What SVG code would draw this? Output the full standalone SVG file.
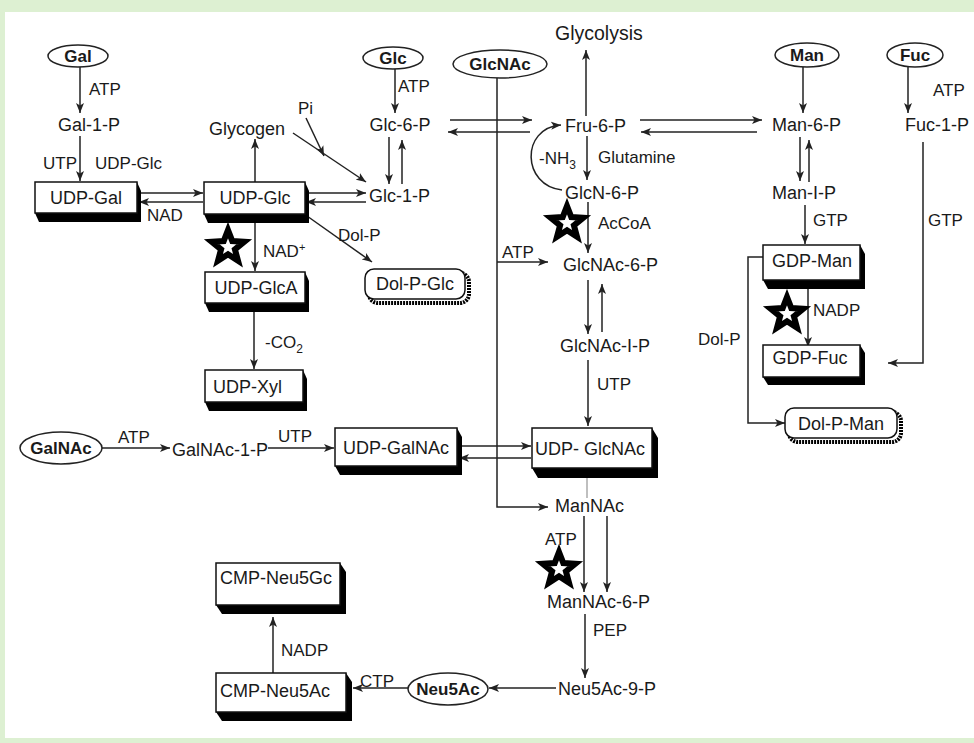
<svg xmlns="http://www.w3.org/2000/svg" width="974" height="743" viewBox="0 0 974 743">
<defs>
<style>
text{font-family:"Liberation Sans",Arial,sans-serif;font-size:17px;fill:#1a1a1a}
.n{font-size:18px}
.b{font-weight:bold;font-size:17px}
.c{stroke:#222;stroke-width:1.5;fill:none;marker-end:url(#ah)}
.p{stroke:#222;stroke-width:1.5;fill:none}
.box{fill:#fff;stroke:#111;stroke-width:1.5}
.sh{fill:#000}
.ell{fill:#fff;stroke:#222;stroke-width:1.5}
.rsh{fill:none;stroke:#000;stroke-width:4;stroke-dasharray:2 1}
.st{fill:#fff;stroke:#000;stroke-width:6;stroke-linejoin:miter;stroke-miterlimit:10}
</style>
<marker id="ah" markerUnits="userSpaceOnUse" markerWidth="11" markerHeight="9" refX="10" refY="4.5" orient="auto" viewBox="0 0 11 9">
<path d="M0,0.5 L10,4.5 L0,8.5 L2.5,4.5 Z" fill="#222"/>
</marker>
<polygon id="star" class="st" points="0,-17 4.3,-5.9 16.2,-5.2 6.9,2.3 10,13.7 0,7.3 -10,13.7 -6.9,2.3 -16.2,-5.2 -4.3,-5.9"/>
</defs>
<rect x="0" y="0" width="974" height="743" fill="#ddf0d2"/>
<rect x="5" y="12" width="969" height="726" fill="#fff"/>

<g id="connectors">
<path class="c" d="M80,67 V113"/>
<path class="c" d="M80,136 V181"/>
<path class="c" d="M138,193 H203"/>
<path class="c" d="M203,202 H139"/>
<path class="c" d="M255,182 V139"/>
<path class="c" d="M293,133 L366,182"/>
<path class="c" d="M306,118 L324,156"/>
<path class="c" d="M395,69 V113"/>
<path class="c" d="M389,137 V184"/>
<path class="c" d="M402,184 V140"/>
<path class="c" d="M306,193 H366"/>
<path class="c" d="M366,202 H306"/>
<path class="c" d="M307,216 L372,262"/>
<path class="c" d="M255,214 V271"/>
<path class="c" d="M254,303 V369"/>
<path class="c" d="M102,448 H170"/>
<path class="c" d="M268,448 H334"/>
<path class="c" d="M458,446 H531"/>
<path class="c" d="M531,458 H459"/>
<path class="c" d="M497,78 V507 H548"/>
<path class="c" d="M497,262 H548"/>
<path class="c" d="M450,120 H532"/>
<path class="c" d="M530,132 H448"/>
<path class="c" d="M586,116 V50"/>
<path class="c" d="M640,120 H762"/>
<path class="c" d="M757,132 H641"/>
<path class="c" d="M587,136 V180"/>
<path class="c" d="M562,190 C522,186 520,128 561,125"/>
<path class="c" d="M588,202 V253"/>
<path class="c" d="M588,280 V334"/>
<path class="c" d="M602,332 V284"/>
<path class="c" d="M588,360 V426"/>
<path d="M587,478 V498" stroke="#aaa" stroke-width="1.5" fill="none"/>
<path class="c" d="M584,516 V592"/>
<path class="c" d="M607,516 V592"/>
<path class="c" d="M585,614 V678"/>
<path class="c" d="M556,688 H489"/>
<path class="c" d="M408,688 H353"/>
<path class="c" d="M273,673 V617"/>
<path class="c" d="M803,67 V113"/>
<path class="c" d="M800,137 V181"/>
<path class="c" d="M809,182 V140"/>
<path class="c" d="M805,205 V244"/>
<path class="c" d="M808,289 V347"/>
<path class="c" d="M908,67 V113"/>
<path class="c" d="M923,142 V363 H888"/>
<path class="c" d="M763,257 H748 V423 H785"/>
</g>

<g id="labels">
<text x="89" y="95">ATP</text>
<text x="43" y="169">UTP</text>
<text x="95" y="169">UDP-Glc</text>
<text x="147" y="221">NAD</text>
<text x="298" y="114">Pi</text>
<text x="398" y="92">ATP</text>
<text x="338" y="241">Dol-P</text>
<text x="263" y="257">NAD<tspan font-size="11" dy="-6">+</tspan></text>
<text x="265" y="348">-CO<tspan font-size="12" dy="5">2</tspan></text>
<text x="118" y="443">ATP</text>
<text x="278" y="442">UTP</text>
<text x="539" y="164">-NH<tspan font-size="12" dy="5">3</tspan></text>
<text x="598" y="163">Glutamine</text>
<text x="598" y="229">AcCoA</text>
<text x="502" y="258">ATP</text>
<text x="597" y="390">UTP</text>
<text x="545" y="545">ATP</text>
<text x="593" y="636">PEP</text>
<text x="360" y="687">CTP</text>
<text x="281" y="656">NADP</text>
<text x="813" y="226">GTP</text>
<text x="813" y="316">NADP</text>
<text x="698" y="345">Dol-P</text>
<text x="933" y="96">ATP</text>
<text x="928" y="226">GTP</text>
</g>

<g id="stars">
<use href="#star" x="228" y="247"/>
<use href="#star" x="567" y="223"/>
<use href="#star" x="559" y="569"/>
<use href="#star" x="787" y="314"/>
</g>

<g id="Gal"><ellipse class="ell" cx="78" cy="56" rx="30" ry="11"/><text class="b" x="78" y="62" text-anchor="middle">Gal</text></g>
<g id="Gal-1-P"><text class="n" x="89" y="131" text-anchor="middle">Gal-1-P</text></g>
<g id="UDP-Gal"><polygon class="sh" points="35,213 39,222 141,222 141,191 137,182"/><rect class="box" x="35" y="182" width="102" height="31"/><text class="n" x="86" y="204" text-anchor="middle">UDP-Gal</text></g>
<g id="UDP-Glc"><polygon class="sh" points="204,214 208,223 309,223 309,191 305,182"/><rect class="box" x="204" y="182" width="101" height="32"/><text class="n" x="255" y="204" text-anchor="middle">UDP-Glc</text></g>
<g id="Glycogen"><text class="n" x="247" y="135" text-anchor="middle">Glycogen</text></g>
<g id="Glc"><ellipse class="ell" cx="393" cy="58" rx="30" ry="11"/><text class="b" x="393" y="64" text-anchor="middle">Glc</text></g>
<g id="Glc-6-P"><text class="n" x="400" y="131" text-anchor="middle">Glc-6-P</text></g>
<g id="Glc-1-P"><text class="n" x="369" y="202">Glc-1-P</text></g>
<g id="Dol-P-Glc"><rect class="rsh" x="369" y="273" width="100" height="30" rx="9"/><rect class="box" x="365" y="269" width="100" height="30" rx="9"/><text class="n" x="415" y="290" text-anchor="middle">Dol-P-Glc</text></g>
<g id="UDP-GlcA"><polygon class="sh" points="205,303 209,312 309,312 309,281 305,272"/><rect class="box" x="205" y="272" width="100" height="31"/><text class="n" x="256" y="294" text-anchor="middle">UDP-GlcA</text></g>
<g id="UDP-Xyl"><polygon class="sh" points="205,402 209,411 307,411 307,379 303,370"/><rect class="box" x="205" y="370" width="98" height="32"/><text class="n" x="213" y="393">UDP-Xyl</text></g>
<g id="GalNAc"><ellipse class="ell" cx="61" cy="448" rx="41" ry="16"/><text class="b" x="61" y="454" text-anchor="middle">GalNAc</text></g>
<g id="GalNAc-1-P"><text class="n" x="172" y="456">GalNAc-1-P</text></g>
<g id="UDP-GalNAc"><polygon class="sh" points="335,466 340,475 462,475 462,437 457,428"/><rect class="box" x="335" y="428" width="122" height="38"/><text class="n" x="396" y="454" text-anchor="middle">UDP-GalNAc</text></g>
<g id="GlcNAc"><ellipse class="ell" cx="500" cy="64" rx="47" ry="14"/><text class="b" x="500" y="70" text-anchor="middle">GlcNAc</text></g>
<g id="Glycolysis"><text x="555" y="40" style="font-size:19.5px">Glycolysis</text></g>
<g id="Fru-6-P"><text class="n" x="565" y="132">Fru-6-P</text></g>
<g id="GlcN-6-P"><text class="n" x="565" y="199">GlcN-6-P</text></g>
<g id="GlcNAc-6-P"><text class="n" x="563" y="271">GlcNAc-6-P</text></g>
<g id="GlcNAc-I-P"><text class="n" x="560" y="352">GlcNAc-I-P</text></g>
<g id="UDP-GlcNAc"><polygon class="sh" points="532,468 538,478 658,478 658,438 652,428"/><rect class="box" x="532" y="428" width="120" height="40"/><text class="n" x="535" y="455">UDP- GlcNAc</text></g>
<g id="ManNAc"><text class="n" x="555" y="512">ManNAc</text></g>
<g id="ManNAc-6-P"><text class="n" x="547" y="608">ManNAc-6-P</text></g>
<g id="Neu5Ac-9-P"><text class="n" x="558" y="695">Neu5Ac-9-P</text></g>
<g id="Neu5Ac"><ellipse class="ell" cx="448" cy="689" rx="40" ry="16"/><text class="b" x="448" y="695" text-anchor="middle">Neu5Ac</text></g>
<g id="CMP-Neu5Ac"><polygon class="sh" points="216,712 222,721 352,721 352,682 346,673"/><rect class="box" x="216" y="673" width="130" height="39"/><text class="n" x="220" y="697">CMP-Neu5Ac</text></g>
<g id="CMP-Neu5Gc"><polygon class="sh" points="216,605 222,614 346,614 346,572 340,563"/><rect class="box" x="216" y="563" width="124" height="42"/><text class="n" x="220" y="584">CMP-Neu5Gc</text></g>
<g id="Man"><ellipse class="ell" cx="807" cy="55" rx="32" ry="12"/><text class="b" x="807" y="61" text-anchor="middle">Man</text></g>
<g id="Man-6-P"><text class="n" x="772" y="131">Man-6-P</text></g>
<g id="Man-I-P"><text class="n" x="772" y="199">Man-I-P</text></g>
<g id="GDP-Man"><polygon class="sh" points="763,280 768,289 865,289 865,254 860,245"/><rect class="box" x="763" y="245" width="97" height="35"/><text class="n" x="812" y="267" text-anchor="middle">GDP-Man</text></g>
<g id="GDP-Fuc"><polygon class="sh" points="763,377 768,385 865,385 865,353 860,345"/><rect class="box" x="763" y="345" width="97" height="32"/><text class="n" x="810" y="364" text-anchor="middle">GDP-Fuc</text></g>
<g id="Dol-P-Man"><rect class="rsh" x="789" y="412" width="112" height="30" rx="9"/><rect class="box" x="785" y="408" width="112" height="30" rx="9"/><text class="n" x="841" y="430" text-anchor="middle">Dol-P-Man</text></g>
<g id="Fuc"><ellipse class="ell" cx="915" cy="55" rx="28" ry="12"/><text class="b" x="915" y="61" text-anchor="middle">Fuc</text></g>
<g id="Fuc-1-P"><text class="n" x="905" y="131">Fuc-1-P</text></g>
</svg>
